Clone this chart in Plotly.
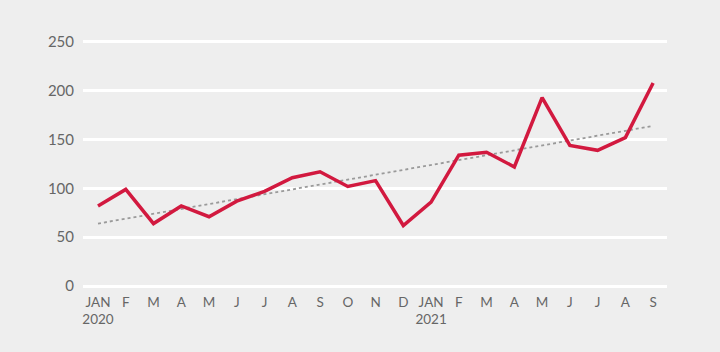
import plotly.graph_objects as go

months = ["JAN<br>2020", "F", "M", "A", "M", "J", "J", "A", "S", "O", "N", "D",
          "JAN<br>2021", "F", "M", "A", "M", "J", "J", "A", "S"]
values = [82, 99, 64, 82, 71, 87, 97, 111, 117, 102, 108, 62,
          86, 134, 137, 122, 193, 144, 139, 152, 208]
trend_x = [0, 20]
trend_y = [64, 164]
y_ticks = [0, 50, 100, 150, 200, 250]

x_idx = list(range(len(months)))

fig = go.Figure()
fig.add_trace(go.Scatter(x=trend_x, y=trend_y, mode="lines",
                         line=dict(color="#9a9a9a", width=1.8, dash="dot"),
                         hoverinfo="skip", showlegend=False))
fig.add_trace(go.Scatter(x=x_idx, y=values, mode="lines",
                         line=dict(color="#d2193f", width=3.5),
                         showlegend=False))

fig.update_layout(
    width=720, height=352,
    margin=dict(l=83, r=53, t=39, b=63),
    paper_bgcolor="#eeeeee", plot_bgcolor="#eeeeee",
    font=dict(family="Lato, 'Open Sans', sans-serif", color="#666666", size=14),
    xaxis=dict(range=[-0.54, 20.5], tickmode="array", tickvals=x_idx, ticktext=months,
               showgrid=False, zeroline=False, showline=False, ticks="",
               ticklabelstandoff=3,
               tickfont=dict(size=13.5), fixedrange=True),
    yaxis=dict(range=[-3, 253], tickmode="array", tickvals=y_ticks,
               showgrid=True, gridcolor="#ffffff", gridwidth=2.5,
               zeroline=False, showline=False, ticks="", ticklabelstandoff=8,
               tickfont=dict(size=15), fixedrange=True),
)

fig.write_html("out.html")
